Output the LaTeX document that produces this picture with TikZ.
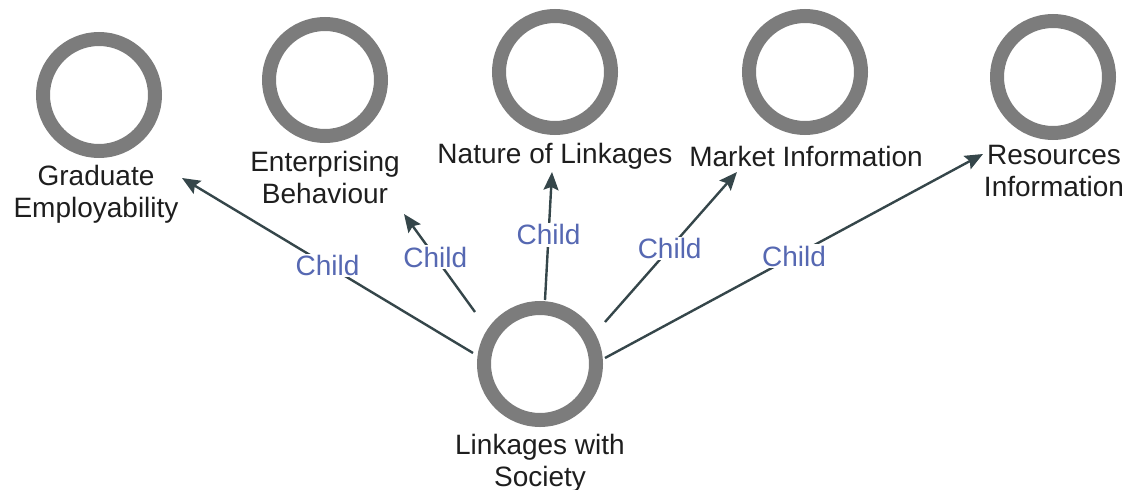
\documentclass[tikz,border=0pt]{standalone}
\usepackage{fontspec}
\setmainfont{Liberation Sans}
\usetikzlibrary{arrows.meta}
\definecolor{ringgray}{HTML}{7C7C7C}
\definecolor{edgecol}{HTML}{35464A}
\definecolor{childblue}{HTML}{5668B2}
\definecolor{textcol}{HTML}{1E1E1E}
\tikzset{
  ringnode/.style={circle, draw=ringgray, line width=14pt, minimum size=112pt, inner sep=0pt, fill=white},
  nametext/.style={text=textcol, align=center, inner sep=0pt, font=\fontsize{28}{32}\selectfont},
  edgeline/.style={draw=edgecol, line width=2.4pt, -{Stealth[length=18pt,width=15pt,inset=3pt]}},
  childlbl/.style={text=childblue, fill=white, inner sep=1.5pt, font=\fontsize{28}{32}\selectfont, pos=0.5}
}
\begin{document}
\begin{tikzpicture}[x=1pt,y=-1pt]
\useasboundingbox (0,0) rectangle (1128,490);
% circles
\node[ringnode] (grad) at (99,95) {};
\node[ringnode] (ent) at (325,80) {};
\node[ringnode] (nat) at (555,72) {};
\node[ringnode] (mkt) at (805,72) {};
\node[ringnode] (res) at (1053,77) {};
\node[ringnode] (soc) at (540,364) {};
% names
\node[nametext] (gradL) at (96,194) {Graduate\\Employability};
\node[nametext] (entL) at (325,177) {Enterprising\\Behaviour};
\node[nametext] (natL) at (555,156) {Nature of Linkages};
\node[nametext] (mktL) at (806,156) {Market Information};
\node[nametext] (resL) at (1054,171) {Resources\\Information};
\node[nametext] (socL) at (540,463) {Linkages with\\Society};
% connector end points
\coordinate (s1) at (473,353); \coordinate (t1) at (182,178);
\coordinate (s2) at (475,312); \coordinate (t2) at (404,214);
\coordinate (s3) at (545,300); \coordinate (t3) at (552,172);
\coordinate (s4) at (605,322); \coordinate (t4) at (737,172);
\coordinate (s5) at (605,358); \coordinate (t5) at (983,154);
% connectors
\draw[edgeline] (s1) -- node[childlbl] (c1) {Child} (t1);
\draw[edgeline] (s2) -- node[childlbl,pos=0.56] (c2) {Child} (t2);
\draw[edgeline] (s3) -- node[childlbl,pos=0.51] (c3) {Child} (t3);
\draw[edgeline] (s4) -- node[childlbl,pos=0.49] (c4) {Child} (t4);
\draw[edgeline] (s5) -- node[childlbl] (c5) {Child} (t5);
\end{tikzpicture}
\end{document}
